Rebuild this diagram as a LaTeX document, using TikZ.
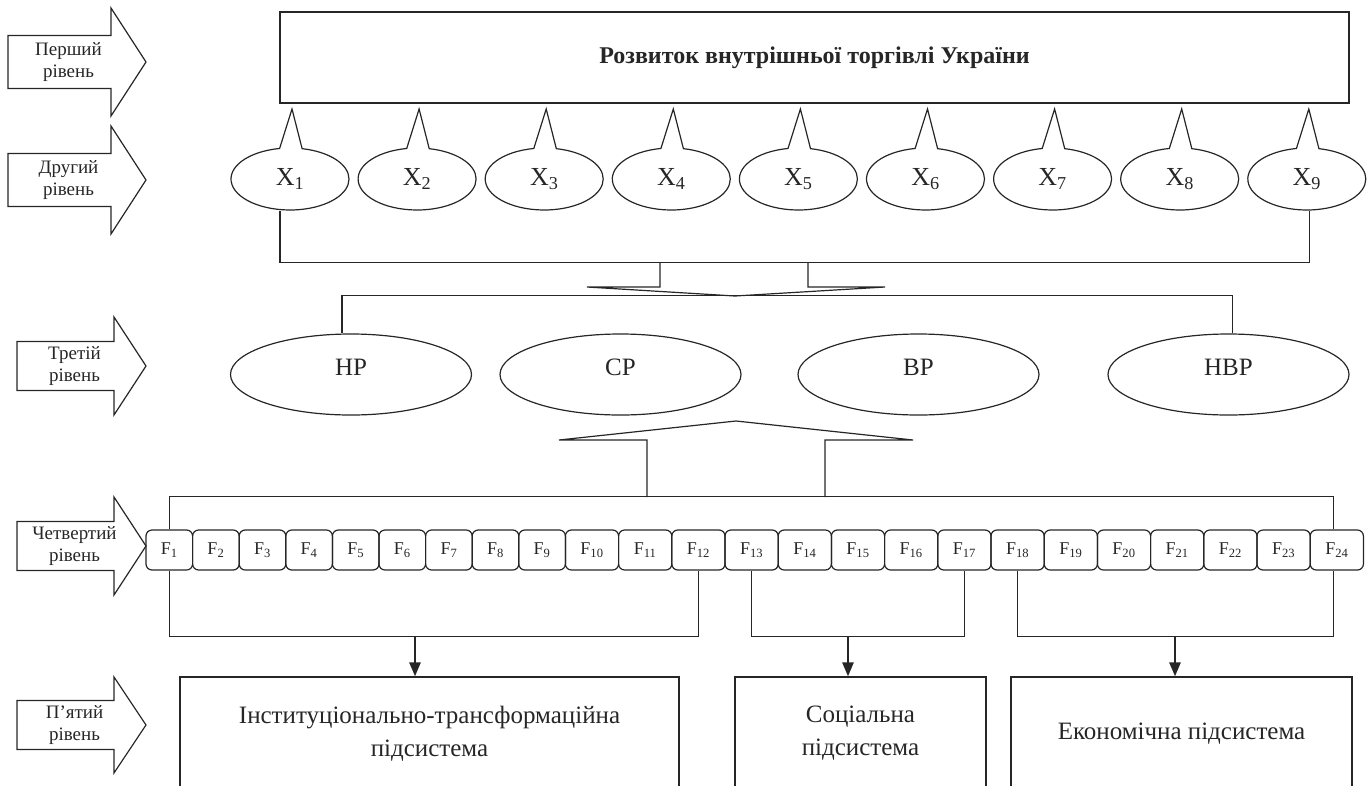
\documentclass[tikz,border=0pt]{standalone}
\usepackage{fontspec}
\setmainfont{Liberation Serif}
\usetikzlibrary{shapes.geometric,shapes.callouts,arrows.meta}

\begin{document}
\begin{tikzpicture}[x=1pt, y=-1pt, line width=1.2pt, color=black!85,
    lvl/.style={align=center, font=\fontsize{19}{22}\selectfont},
    xell/.style={ellipse callout, draw, minimum width=118, minimum height=62,
        inner sep=0pt, callout pointer arc=22, font=\fontsize{26}{28}\selectfont},
    lell/.style={ellipse, draw, minimum width=241, minimum height=81, inner sep=0pt,
        text height=17pt, text depth=16pt, font=\fontsize{25}{28}\selectfont},
    fbox/.style={draw, rounded corners=6pt, minimum height=40, inner sep=0pt,
        font=\fontsize{18}{20}\selectfont},
    subbox/.style={draw, minimum height=113, align=center, font=\fontsize{25}{33}\selectfont},
    down/.style={line width=2.5pt, -{Triangle[length=14pt,width=11pt]}}]
    \useasboundingbox (0,0) rectangle (1371,785);
    \clip (0,0) rectangle (1371,785);

    % level arrows on the left
    \foreach \n/\yt/\l/\hb/\bh/\hh/\t in {l1/62/8/111/26.5/54/{Перший\\рівень},
            l2/180/8/111/26.5/54/{Другий\\рівень}, l3/366/17/114/24.5/49/{Третій\\рівень},
            l4/546/17/114/24.5/49/{Четвертий\\рівень}, l5/725/17/114/24.5/48/{П’ятий\\рівень}} {
        \draw (\l,\yt-\bh) -- (\hb,\yt-\bh) -- (\hb,\yt-\hh) -- (146,\yt)
            -- (\hb,\yt+\hh) -- (\hb,\yt+\bh) -- (\l,\yt+\bh) -- cycle;
        \node[lvl] (\n) at ({(\l+\hb)/2+9},\yt) {\t};
    }

    \node[draw, minimum width=1069, minimum height=91, font=\bfseries\fontsize{24}{28}\selectfont]
        (title) at (814.5,57.5) {Розвиток внутрішньої торгівлі України};

    \foreach \i in {1,...,9} {
        \pgfmathsetmacro\cx{290+127.1*(\i-1)}
        \node[xell, callout absolute pointer={(\cx+2,109)}] (x\i) at (\cx,179) {X\textsubscript{\i}};
    }
    \draw ([xshift=-10pt]x1.south) -- ++(0,52) -| ([xshift=3pt]x9.south);
    \draw (660,262) -- (660,287) -- (587,287) -- (735,296) -- (885,287) -- (808,287) -- (808,262);

    \node[lell] (np) at (351,374.5) {НР};
    \node[lell] (sp) at (620.5,374.5) {СР};
    \node[lell] (vp) at (918.5,374.5) {ВР};
    \node[lell] (nvp) at (1228.5,374.5) {НВР};
    \draw ([xshift=-9pt]np.north) -- ++(0,-38) -| ([xshift=4pt]nvp.north);

    \draw (647,497) -- (647,440) -- (559,440) -- (736,421) -- (913,440) -- (825,440) -- (825,497);

    \foreach \i in {1,...,24} {
        \pgfmathsetmacro\fw{\i<10 ? 46.6 : 53.2}
        \pgfmathsetmacro\fx{\i<10 ? 146+46.6*(\i-0.5) : 565.4+53.2*(\i-9.5)}
        \node[fbox, minimum width=\fw] (f\i) at (\fx,550) {F\textsubscript{\i}};
    }
    \draw (f1.north) -- ++(0,-33) -| ([xshift=-3.5pt]f24.north);

    \draw (f1.south) -- ++(0,66) -| (f12.south);
    \draw (f13.south) -- ++(0,66) -| (f17.south);
    \draw (f18.south) -- ++(0,66) -| ([xshift=-3.5pt]f24.south);

    \node[subbox, minimum width=499] (itp) at (429.5,733.5) {Інституціонально-трансформаційна\\підсистема};
    \node[subbox, minimum width=251] (soc) at (860.5,733.5) {Соціальна\\підсистема};
    \node[subbox, minimum width=341] (eco) at (1181.5,733.5) {Економічна підсистема};

    \coordinate (a1) at (415,636);
    \coordinate (a2) at (848,636);
    \coordinate (a3) at (1175,636);
    \draw[down] (a1) -- (a1 |- itp.north);
    \draw[down] (a2) -- (a2 |- soc.north);
    \draw[down] (a3) -- (a3 |- eco.north);
\end{tikzpicture}
\end{document}
